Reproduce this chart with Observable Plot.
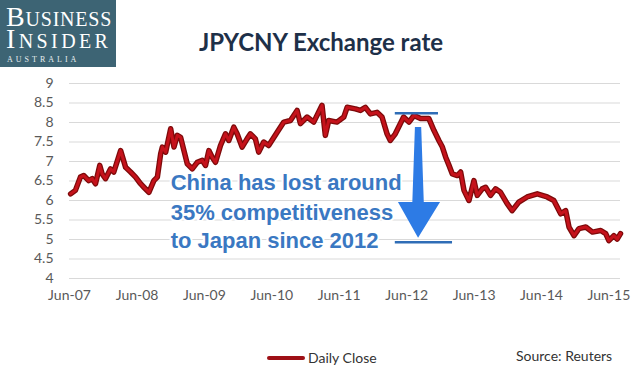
<!DOCTYPE html>
<html><head><meta charset="utf-8">
<script src="https://cdn.jsdelivr.net/npm/d3@7"></script>
<script src="https://cdn.jsdelivr.net/npm/@observablehq/plot@0.6"></script>
<style>
body{margin:0;background:#fff;}
#wrap{position:relative;width:640px;height:384px;overflow:hidden;background:#fff;font-family:Lato,sans-serif;}
#chart{position:absolute;left:0;top:0;}
#logo{position:absolute;left:0;top:0;width:116px;height:67px;background:#3d6474;font-family:"Liberation Serif",serif;color:#fff;}
#bi{position:absolute;left:6px;top:6px;white-space:nowrap;font-size:28px;line-height:22px;font-variant:small-caps;letter-spacing:3.4px;}
#bi::first-line{letter-spacing:0.8px;}
#au{position:absolute;left:7px;top:56px;line-height:8px;font-size:8px;letter-spacing:3px;color:#e8eef0;white-space:nowrap;}
#title{position:absolute;left:0;top:28px;width:642px;text-align:center;font-weight:bold;font-size:24px;font-family:Lato,sans-serif;color:#1e3048;line-height:28px;}
#legline{position:absolute;left:267px;top:356px;width:38px;height:4px;background:#9e1016;border-radius:2px;}
#legtext{position:absolute;left:308px;top:349px;font-size:14px;color:#333;line-height:18px;}
#source{position:absolute;left:516px;top:347px;font-size:14px;color:#333;line-height:18px;}
</style></head>
<body>
<div id="wrap">
<div id="chart"></div>
<div id="logo">
<div id="bi">Business<br>Insider</div>
<div id="au">AUSTRALIA</div>
</div>
<div id="title">JPYCNY Exchange rate</div>
<div id="legline"></div>
<div id="legtext">Daily Close</div>
<div id="source">Source: Reuters</div>
</div>
<script>
const dates = ["2007-06-07","2007-07-03","2007-07-30","2007-08-17","2007-09-13","2007-10-02","2007-10-20","2007-11-12","2007-11-25","2007-12-13",
"2008-01-09","2008-01-27","2008-03-04","2008-03-31","2008-04-27","2008-05-24","2008-06-20","2008-07-08","2008-08-04","2008-08-31",
"2008-09-19","2008-10-07","2008-10-16","2008-11-03","2008-11-30","2008-12-18","2009-01-05","2009-01-23","2009-02-10","2009-02-28",
"2009-03-27","2009-04-23","2009-05-20","2009-06-07","2009-06-25","2009-07-13","2009-07-31","2009-08-27","2009-09-23","2009-10-11",
"2009-11-07","2009-11-25","2009-12-22","2010-01-18","2010-02-05","2010-03-04","2010-03-22","2010-04-18","2010-05-15","2010-06-30",
"2010-08-05","2010-09-10","2010-10-16","2010-11-03","2010-12-09","2011-01-14","2011-02-28","2011-03-18","2011-04-05","2011-05-20",
"2011-06-26","2011-07-14","2011-08-28","2011-09-24","2011-10-21","2011-11-17","2011-12-23","2012-01-19","2012-02-15","2012-03-04",
"2012-03-31","2012-04-27","2012-05-15","2012-06-13","2012-07-10","2012-08-15","2012-09-02","2012-09-29","2012-10-26","2012-11-22",
"2012-12-11","2012-12-29","2013-01-16","2013-02-03","2013-03-02","2013-03-20","2013-04-07","2013-05-04","2013-05-31","2013-06-18",
"2013-07-15","2013-08-02","2013-08-29","2013-09-25","2013-10-22","2013-11-27","2013-12-24","2014-01-29","2014-03-15","2014-05-09",
"2014-07-02","2014-08-07","2014-09-13","2014-10-10","2014-10-28","2014-11-24","2014-12-21","2015-01-27","2015-03-04","2015-04-18",
"2015-05-15","2015-06-01","2015-06-28","2015-07-16","2015-08-03"];
const rates = [6.17,6.26,6.60,6.64,6.51,6.56,6.43,6.90,6.68,6.56,
6.81,6.73,7.28,6.85,6.73,6.60,6.43,6.34,6.21,6.51,
6.60,7.20,7.37,7.24,7.84,7.37,7.67,7.62,7.28,6.94,
6.81,6.98,7.03,6.90,7.28,7.11,6.98,7.41,7.71,7.54,
7.88,7.71,7.37,7.58,7.71,7.58,7.24,7.50,7.41,7.75,
8.01,8.05,8.31,7.97,8.14,8.01,8.44,7.67,8.05,8.01,
8.14,8.39,8.35,8.31,8.39,8.22,8.26,8.14,7.71,7.54,
7.71,7.97,8.14,8.01,8.18,8.10,8.10,8.10,7.80,7.54,
7.37,7.11,6.90,6.68,6.64,6.73,6.26,6.00,6.51,6.13,
6.30,6.34,6.13,6.30,6.21,5.92,5.74,5.96,6.09,6.17,
6.09,6.00,5.66,5.74,5.32,5.10,5.28,5.32,5.19,5.23,
5.15,4.97,5.10,5.01,5.15];

const yTicks = [4,4.5,5,5.5,6,6.5,7,7.5,8,8.5,9];
const xTicks = ["2007-06-01","2008-06-01","2009-06-01","2010-06-01","2011-06-01","2012-06-01","2013-06-01","2014-06-01","2015-06-01"];
const xTickLabels = ["Jun-07","Jun-08","Jun-09","Jun-10","Jun-11","Jun-12","Jun-13","Jun-14","Jun-15"];
const xDomain = ["2007-06-01","2015-08-03"];

// annotation
const annoLines = ["China has lost around","35% competitiveness","to Japan since 2012"];
const annoX = "2008-11-30";
const annoY = [6.44, 5.69, 4.96];
const ruleYs = [8.24, 4.93];
const ruleX1 = ["2012-03-31","2012-03-31"];
const ruleX2 = ["2012-11-20","2013-02-04"];
const arrowY  = [7.87, 5.95, 5.95, 5.03];
const arrowX1 = ["2012-07-18","2012-07-04","2012-04-17","2012-08-04"];
const arrowX2 = ["2012-08-21","2012-09-04","2012-12-01","2012-08-04"];

const D = s => new Date(s);
const data = dates.map((d,i)=>({date: D(d), value: rates[i]}));
const rules = ruleYs.map((y,i)=>({y, x1: D(ruleX1[i]), x2: D(ruleX2[i])}));
const arrow = arrowY.map((y,i)=>({y, x1: D(arrowX1[i]), x2: D(arrowX2[i])}));
const anno = annoLines.map((t,i)=>({t, x: D(annoX), y: annoY[i]}));
const xTickDates = xTicks.map(D);

const plot = Plot.plot({
  width: 640, height: 384,
  marginTop: 83, marginBottom: 106, marginLeft: 69, marginRight: 20,
  style: {background: "transparent", fontFamily: "Lato, sans-serif", fontSize: "14px", color: "#595959"},
  x: {type: "utc", domain: xDomain.map(D), label: null},
  y: {domain: [4, 9], label: null},
  marks: [
    Plot.gridY(yTicks, {stroke: "#d9d9d9", strokeOpacity: 1, strokeWidth: 1}),
    Plot.axisY(yTicks, {tickSize: 0, tickPadding: 16, fontSize: 14, label: null, tickFormat: d => String(d)}),
    Plot.axisX(xTickDates, {tickSize: 0, tickPadding: 12, fontSize: 14, label: null,
      tickFormat: d => xTickLabels[xTickDates.findIndex(t => +t === +d)]}),
    Plot.line(data, {x: "date", y: "value", stroke: "#7d0a0a", strokeWidth: 5.5, strokeLinejoin: "round"}),
    Plot.line(data, {x: "date", y: "value", stroke: "#c5121b", strokeWidth: 3, strokeLinejoin: "round"}),
    Plot.ruleY(rules, {y: "y", x1: "x1", x2: "x2", stroke: "#2f6db6", strokeWidth: 2.5}),
    Plot.areaX(arrow, {y: "y", x1: "x1", x2: "x2", fill: "#2d7be5", curve: "linear"}),
    Plot.text(anno, {x: "x", y: "y", text: "t", textAnchor: "start", lineAnchor: "middle", fontSize: 22, fontWeight: "bold",
      fontFamily: "Liberation Sans, Arial, sans-serif", fill: "#3a78c2", stroke: "white", strokeWidth: 4})
  ]
});
document.getElementById("chart").appendChild(plot);
</script>
</body></html>
